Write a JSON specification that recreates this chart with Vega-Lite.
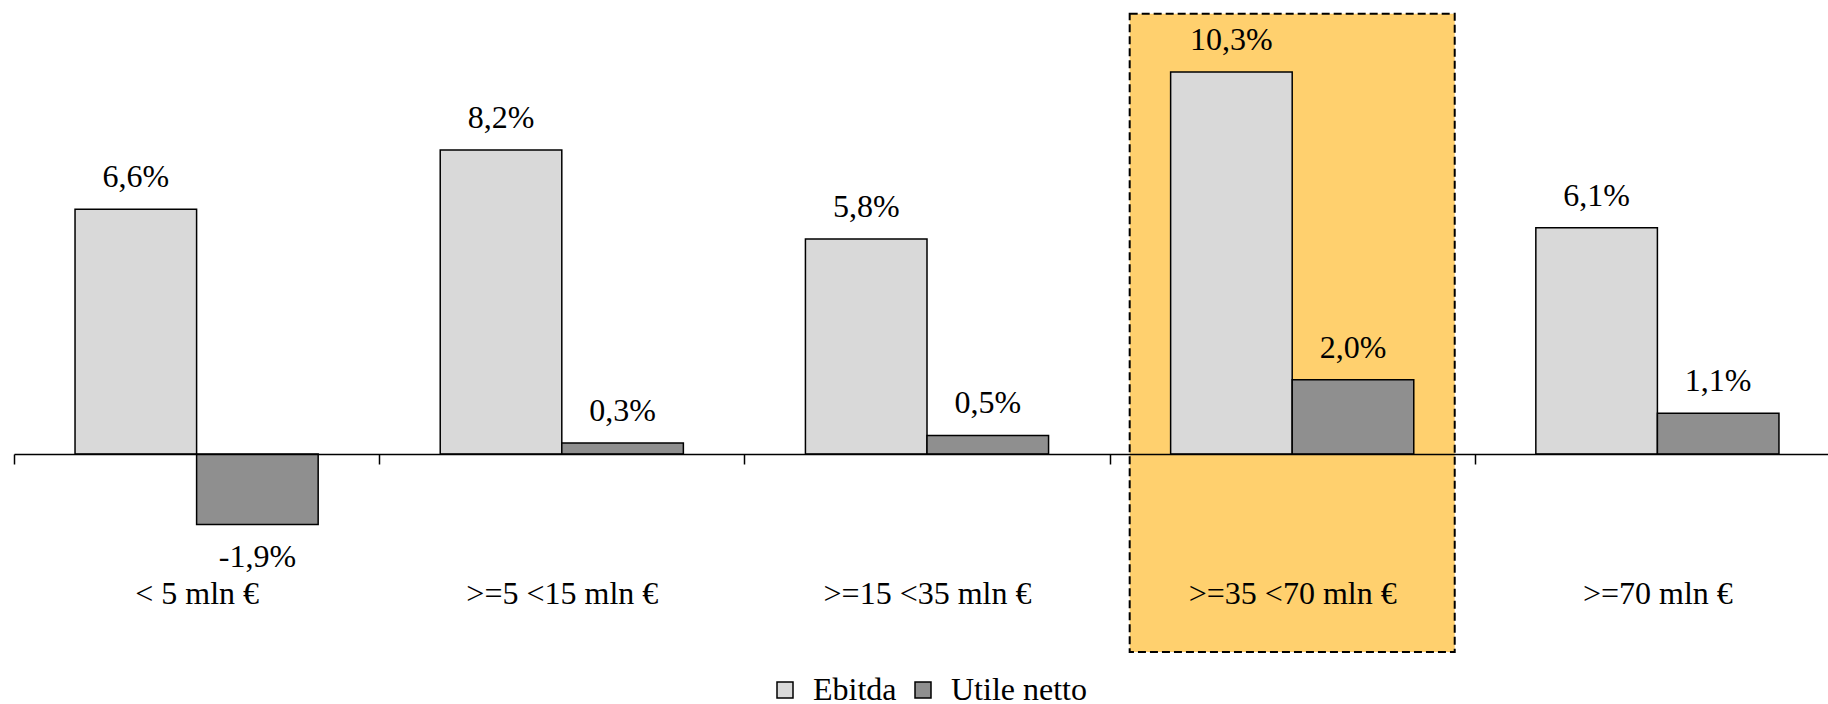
{
  "$schema": "https://vega.github.io/schema/vega-lite/v6.json",
  "width": 1826,
  "height": 445,
  "autosize": {"type": "none"},
  "padding": {"left": 14, "top": 9, "right": 0, "bottom": 250},
  "background": "white",
  "config": {
    "view": {"stroke": null},
    "font": "Liberation Serif"
  },
  "data": {
    "values": [
      {"category": "< 5 mln €", "series": "Ebitda", "value": 6.6},
      {"category": "< 5 mln €", "series": "Utile netto", "value": -1.9},
      {"category": ">=5 <15 mln €", "series": "Ebitda", "value": 8.2},
      {"category": ">=5 <15 mln €", "series": "Utile netto", "value": 0.3},
      {"category": ">=15 <35 mln €", "series": "Ebitda", "value": 5.8},
      {"category": ">=15 <35 mln €", "series": "Utile netto", "value": 0.5},
      {"category": ">=35 <70 mln €", "series": "Ebitda", "value": 10.3},
      {"category": ">=35 <70 mln €", "series": "Utile netto", "value": 2.0},
      {"category": ">=70 mln €", "series": "Ebitda", "value": 6.1},
      {"category": ">=70 mln €", "series": "Utile netto", "value": 1.1}
    ]
  },
  "transform": [
    {"calculate": "replace(replace(format(datum.value, '.1f'), '.', ','), '\u2212', '-') + '%'", "as": "label"}
  ],
  "layer": [
    {
      "transform": [{"filter": "datum.category === '>=35 <70 mln €' && datum.series === 'Ebitda'"}],
      "mark": {"type": "bar", "fill": "#FFD06E", "stroke": "black", "strokeWidth": 2, "strokeDash": [8, 4], "width": {"band": 0.89}},
      "encoding": {
        "x": {"field": "category", "type": "nominal", "sort": null, "title": null},
        "y": {"datum": 11.87, "type": "quantitative", "axis": null},
        "y2": {"datum": -5.34}
      }
    },
    {
      "mark": {"type": "bar", "stroke": "black", "strokeWidth": 1.5},
      "encoding": {
        "x": {
          "field": "category",
          "type": "nominal",
          "sort": null,
          "title": null,
          "scale": {"domain": ["< 5 mln €", ">=5 <15 mln €", ">=15 <35 mln €", ">=35 <70 mln €", ">=70 mln €"], "paddingInner": 0, "paddingOuter": 0},
          "axis": {
            "domainColor": "black",
            "domainWidth": 1.5,
            "tickColor": "black",
            "tickWidth": 1.5,
            "tickSize": 10,
            "tickBand": "extent",
            "labelAngle": 0,
            "labelAlign": "center",
            "labelFontSize": 32,
            "labelFont": "Liberation Serif",
            "labelColor": "black",
            "labelBaseline": "alphabetic",
            "labelPadding": 139,
            "labelLimit": 0,
            "labelOverlap": false,
            "grid": false,
            "zindex": 2
          }
        },
        "xOffset": {"field": "series", "type": "nominal", "scale": {"paddingInner": 0, "paddingOuter": 0.502}},
        "y": {"field": "value", "type": "quantitative", "axis": null, "scale": {"domain": [0, 12], "nice": false, "zero": true}},
        "color": {
          "field": "series",
          "type": "nominal",
          "scale": {"domain": ["Ebitda", "Utile netto"], "range": ["#D9D9D9", "#8F8F8F"]},
          "legend": {
            "title": null,
            "orient": "none",
            "direction": "horizontal",
            "legendX": 755,
            "legendY": 665,
            "symbolType": "square",
            "symbolSize": 256,
            "symbolStrokeColor": "black",
            "symbolStrokeWidth": 1.5,
            "symbolOpacity": 1,
            "labelFontSize": 32,
            "labelFont": "Liberation Serif",
            "labelColor": "black",
            "labelOffset": 12,
            "columnSpacing": 20,
            "labelLimit": 0
          }
        }
      }
    },
    {
      "transform": [{"filter": "datum.value >= 0"}],
      "mark": {"type": "text", "baseline": "alphabetic", "dy": -22, "fontSize": 32, "font": "Liberation Serif", "color": "black"},
      "encoding": {
        "x": {"field": "category", "type": "nominal", "sort": null, "title": null},
        "xOffset": {"field": "series", "type": "nominal"},
        "y": {"field": "value", "type": "quantitative", "axis": null},
        "text": {"field": "label"}
      }
    },
    {
      "transform": [{"filter": "datum.value < 0"}],
      "mark": {"type": "text", "baseline": "alphabetic", "dy": 43, "fontSize": 32, "font": "Liberation Serif", "color": "black"},
      "encoding": {
        "x": {"field": "category", "type": "nominal", "sort": null, "title": null},
        "xOffset": {"field": "series", "type": "nominal"},
        "y": {"field": "value", "type": "quantitative", "axis": null},
        "text": {"field": "label"}
      }
    }
  ]
}
